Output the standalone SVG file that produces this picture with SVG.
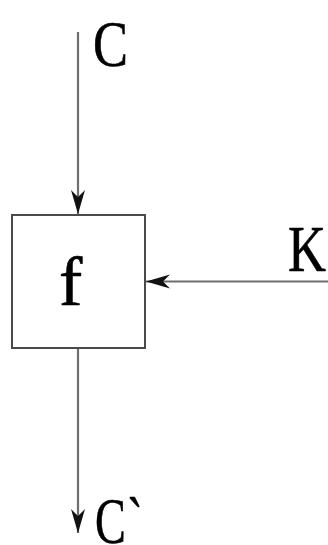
<svg xmlns="http://www.w3.org/2000/svg" width="328" height="545" viewBox="0 0 328 545">
<defs>
<style>
.ln{stroke:#6e6e6e;stroke-width:2.2;fill:none}
.bx{stroke:#4a4a4a;stroke-width:2;fill:#fff}
.t{font-family:"Liberation Serif","DejaVu Serif",serif;fill:#000;stroke:#000;stroke-width:0.6}
</style>
<marker id="ah" viewBox="-26 -8 28 16" refX="0" refY="0" markerWidth="28" markerHeight="16" markerUnits="userSpaceOnUse" orient="auto">
<path d="M0,0 L-24,-7 L-17,0 L-24,7 Z" fill="#111"/>
</marker>
</defs>
<g id="connectors">
<line class="ln" x1="78" y1="32" x2="78" y2="214" marker-end="url(#ah)"/>
<line class="ln" x1="328" y1="281.5" x2="146" y2="281.5" marker-end="url(#ah)"/>
<line class="ln" x1="78" y1="348" x2="78" y2="533" marker-end="url(#ah)"/>
</g>
<g id="f">
<rect class="bx" x="12" y="215" width="133" height="133"/>
<text class="t" x="59" y="305" font-size="70">f</text>
</g>
<g id="C">
<text class="t" x="93" y="66" font-size="66" textLength="35" lengthAdjust="spacingAndGlyphs">C</text>
</g>
<g id="K">
<text class="t" x="288" y="271" font-size="66" textLength="38" lengthAdjust="spacingAndGlyphs">K</text>
</g>
<g id="C2">
<text class="t" transform="translate(95,543) scale(0.7,1)" font-size="66" letter-spacing="2">C`</text>
</g>
</svg>
